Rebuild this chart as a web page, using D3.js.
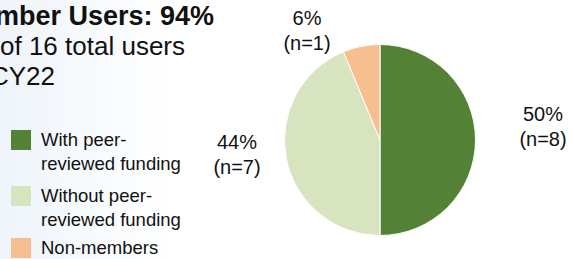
<!DOCTYPE html>
<html>
<head>
<meta charset="utf-8">
<script src="https://cdn.jsdelivr.net/npm/d3@7"></script>
<style>
  body { margin: 0; background: #fff; }
  svg { display: block; font-family: "Liberation Sans", Arial, Helvetica, sans-serif; }
</style>
</head>
<body>
<script>
// data
var categories = ["With peer-reviewed funding", "Without peer-reviewed funding", "Non-members"];
var counts = [8, 7, 1];
var percents = ["50%", "44%", "6%"];
var legendLines = [["With peer-", "reviewed funding"], ["Without peer-", "reviewed funding"], ["Non-members"]];
var colors = ["#538135", "#d8e4bf", "#f7bf8f"];
var titleLines = ["Member Users: 94%", "of 16 total users", "CY22"];

var width = 571, height = 259;
var svg = d3.select("body").append("svg")
  .attr("width", width)
  .attr("height", height);

// soft blue wash on the left
var grad = svg.append("defs").append("linearGradient")
  .attr("id", "bg").attr("x1", 0).attr("x2", 1).attr("y1", 0).attr("y2", 0);
grad.append("stop").attr("offset", 0).attr("stop-color", "#eef4fa");
grad.append("stop").attr("offset", 0.3).attr("stop-color", "#ffffff");
svg.append("rect").attr("width", width).attr("height", height).attr("fill", "url(#bg)");

// title block (left edge clipped like the source slide)
var titleEnds = [214, 185, 55];
svg.selectAll("text.title").data(titleLines).enter().append("text")
  .attr("class", "title")
  .attr("x", function (d, i) { return titleEnds[i]; })
  .attr("y", function (d, i) { return 25 + i * 30; })
  .attr("text-anchor", "end")
  .attr("font-size", function (d, i) { return i == 0 ? "27px" : "26px"; })
  .attr("font-weight", function (d, i) { return i == 0 ? "bold" : "normal"; })
  .attr("fill", "#111")
  .text(function (d) { return d; });

// legend
var legendY = [130, 186, 238];
var legend = svg.selectAll("g.legend").data(categories).enter().append("g")
  .attr("class", "legend")
  .attr("transform", function (d, i) { return "translate(11," + legendY[i] + ")"; });
legend.append("rect")
  .attr("width", 20).attr("height", 20)
  .attr("fill", function (d, i) { return colors[i]; });
legend.each(function (d, i) {
  d3.select(this).selectAll("text").data(legendLines[i]).enter().append("text")
    .attr("x", 30)
    .attr("y", function (t, j) { return 16 + j * 24; })
    .attr("font-size", "18.5px")
    .attr("fill", "#111")
    .text(function (t) { return t; });
});

// pie
var cx = 380, cy = 140, r = 95.5;
var pie = d3.pie().sort(null).value(function (d) { return d; });
var arc = d3.arc().innerRadius(0).outerRadius(r);
var g = svg.append("g").attr("transform", "translate(" + cx + "," + cy + ")");
g.selectAll("path").data(pie(counts)).enter().append("path")
  .attr("d", arc)
  .attr("fill", function (d, i) { return colors[i]; })
  .attr("stroke", "#fff")
  .attr("stroke-width", 1);

// slice labels
var labelPos = [[163, -19], [-143, 9], [-73, -115]];
var labels = g.selectAll("g.lbl").data(counts).enter().append("g")
  .attr("class", "lbl")
  .attr("transform", function (d, i) { return "translate(" + labelPos[i][0] + "," + labelPos[i][1] + ")"; });
labels.append("text")
  .attr("text-anchor", "middle")
  .attr("font-size", "20px")
  .attr("fill", "#111")
  .text(function (d, i) { return percents[i]; });
labels.append("text")
  .attr("text-anchor", "middle")
  .attr("y", 25)
  .attr("font-size", "20px")
  .attr("fill", "#111")
  .text(function (d) { return "(n=" + d + ")"; });
</script>
</body>
</html>
